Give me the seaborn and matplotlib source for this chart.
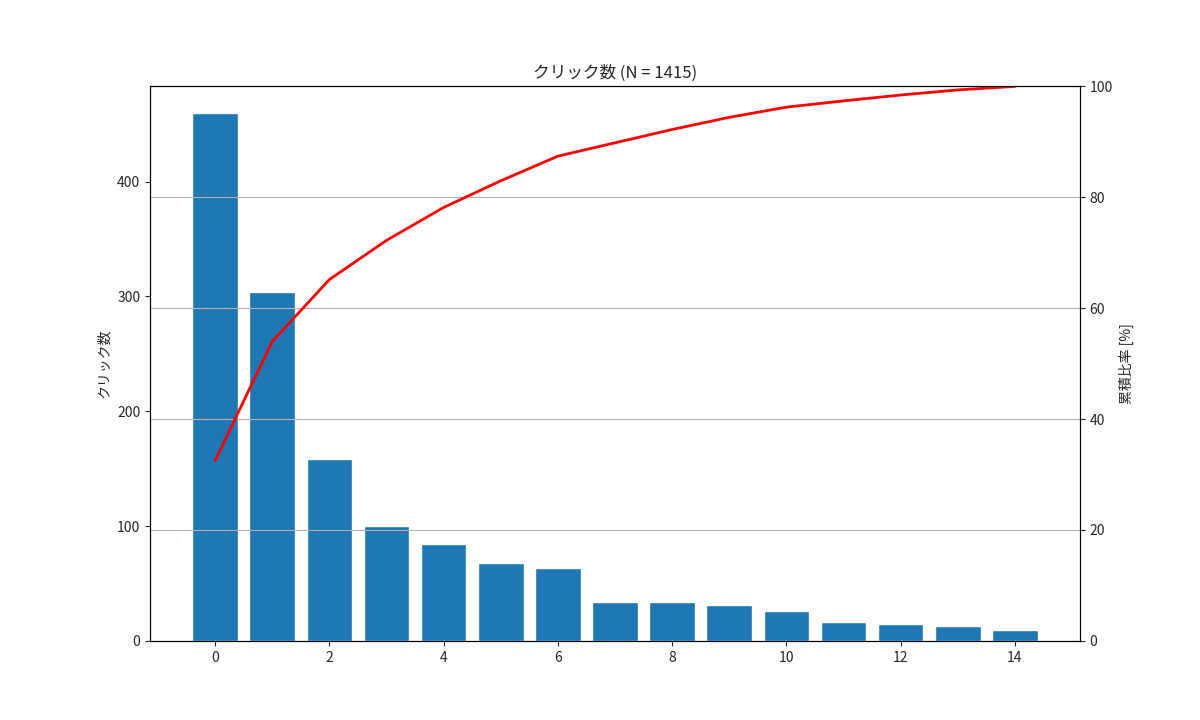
import matplotlib
matplotlib.use("Agg")
import matplotlib.pyplot as plt
import seaborn as sns
import numpy as np
import pandas as pd

ranks = list(range(15))
clicks = [460, 304, 158, 100, 84, 68, 63, 34, 34, 31, 26, 16, 15, 13, 9]

sns.set_style("white")
plt.rcParams['font.family'] = ['Noto Sans CJK JP', 'DejaVu Sans']

total = sum(clicks)
cum = np.cumsum(clicks) / total * 100
df = pd.DataFrame({"rank": ranks, "clicks": clicks, "cum": cum})

fig, ax = plt.subplots(figsize=(12, 7.2), dpi=100)
sns.barplot(data=df, x="rank", y="clicks", native_scale=True, color="#1f77b4",
            saturation=1, width=0.8, ax=ax)
ax.set_xlim(-1.14, 15.14)
ax.set_ylim(0, max(clicks) * 1.05)
ax.set_xticks(range(0, 15, 2))
ax.set_xlabel("")
ax.set_ylabel("クリック数")
ax.set_title(f"クリック数 (N = {total})")
ax.tick_params(left=True, bottom=True)

ax2 = ax.twinx()
sns.lineplot(data=df, x="rank", y="cum", color="red", linewidth=2, ax=ax2)
ax2.set_ylim(0, 100)
ax2.set_ylabel("累積比率 [%]")
ax2.grid(True, axis="y", color="#b0b0b0")
ax2.tick_params(right=True)
for a in (ax, ax2):
    for s in a.spines.values():
        s.set_color("black")

fig.savefig("out.png")
